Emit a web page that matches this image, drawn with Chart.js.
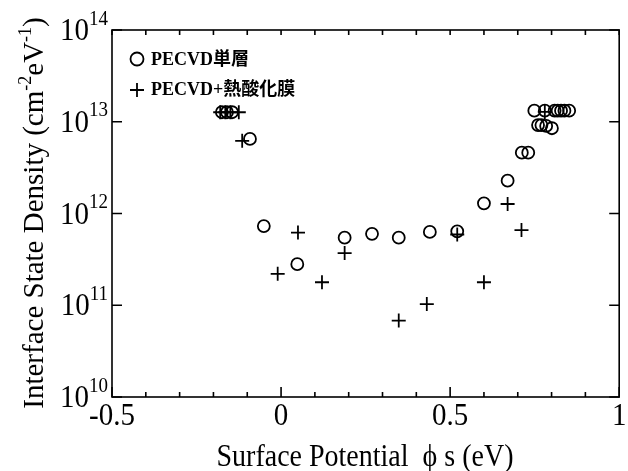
<!DOCTYPE html>
<html><head><meta charset="utf-8">
<script src="https://cdn.jsdelivr.net/npm/chart.js"></script>
<style>html,body{margin:0;padding:0;background:#fff;} #wrap{width:628px;height:471px;position:relative;}</style>
</head><body><div id="wrap"><canvas id="c" width="628" height="471"></canvas></div>
<script>
// ---- data ----
const seriesNames = ['PECVD単層', 'PECVD+熱酸化膜'];
const singleX = [-0.175, -0.16, -0.145, -0.092, -0.051, 0.048, 0.188, 0.269, 0.348, 0.44, 0.521, 0.60, 0.670, 0.712, 0.731, 0.749, 0.760, 0.770, 0.780, 0.784, 0.801, 0.809, 0.818, 0.828, 0.838, 0.852];
const singleY = [1.27e13, 1.27e13, 1.27e13, 6.5e12, 7.3e11, 2.8e11, 5.45e11, 6.0e11, 5.45e11, 6.3e11, 6.4e11, 1.29e12, 2.28e12, 4.6e12, 4.6e12, 1.32e13, 9.2e12, 9.2e12, 1.32e13, 9.0e12, 8.5e12, 1.32e13, 1.32e13, 1.32e13, 1.32e13, 1.32e13];
const oxideX = [-0.18, -0.165, -0.15, -0.125, -0.115, -0.01, 0.05, 0.121, 0.188, 0.348, 0.431, 0.521, 0.60, 0.67, 0.711, 0.78];
const oxideY = [1.27e13, 1.27e13, 1.27e13, 1.27e13, 6.2e12, 2.2e11, 6.2e11, 1.78e11, 3.7e11, 6.8e10, 1.03e11, 5.9e11, 1.78e11, 1.27e12, 6.6e11, 1.28e13];
const xTickValues = [-0.5, 0, 0.5, 1];
const xTickLabels = ['-0.5', '0', '0.5', '1'];
const xMinorStep = 0.1;
const yTickExponents = [10, 11, 12, 13, 14];
const xTitle = 'Surface Potential  ϕ s (eV)';
const yTitleParts = [['Interface State Density (cm', false], ['-2', true], ['eV', false], ['-1', true], [')', false]];

const SERIF = "'Liberation Serif', 'Times New Roman', serif";
const VSTRETCH = 1.1;

function toPts(xs, ys) { return xs.map((x, i) => ({ x: x, y: ys[i] })); }

function richWidth(ctx, parts, size, supSize) {
  let w = 0;
  for (const [t, sup] of parts) {
    ctx.font = (sup ? supSize : size) + 'px ' + SERIF;
    w += ctx.measureText(t).width;
  }
  return w;
}
function drawRich(ctx, parts, x, y, size, supSize, supRise) {
  let cx = x;
  for (const [t, sup] of parts) {
    ctx.font = (sup ? supSize : size) + 'px ' + SERIF;
    ctx.fillText(t, cx, sup ? y - supRise : y);
    cx += ctx.measureText(t).width;
  }
}
// draw text with a slight vertical stretch, anchored at its baseline
function stretchedText(ctx, text, x, y) {
  ctx.save();
  ctx.translate(x, y);
  ctx.scale(1, VSTRETCH);
  ctx.fillText(text, 0, 0);
  ctx.restore();
}

const decor = {
  id: 'decor',
  afterDraw(chart) {
    const ctx = chart.ctx, a = chart.chartArea;
    const xs = chart.scales.x, ys = chart.scales.y;
    ctx.save();
    ctx.strokeStyle = '#000';
    ctx.fillStyle = '#000';
    ctx.lineWidth = 1.6;
    ctx.strokeRect(a.left, a.top, a.right - a.left, a.bottom - a.top);
    ctx.beginPath();
    for (let k = 0; k <= 15; k++) {
      const v = -0.5 + k * xMinorStep;
      const px = xs.getPixelForValue(v);
      const major = k % 5 === 0;
      ctx.moveTo(px, a.bottom); ctx.lineTo(px, a.bottom - (major ? 10 : 5));
      ctx.moveTo(px, a.top); ctx.lineTo(px, a.top + 5);
    }
    for (const e of yTickExponents) {
      const py = ys.getPixelForValue(Math.pow(10, e));
      ctx.moveTo(a.left, py); ctx.lineTo(a.left + 10, py);
      ctx.moveTo(a.right, py); ctx.lineTo(a.right - 10, py);
    }
    ctx.stroke();
    // x tick labels
    ctx.font = '29px ' + SERIF;
    ctx.textAlign = 'center';
    ctx.textBaseline = 'alphabetic';
    xTickValues.forEach((v, i) => {
      stretchedText(ctx, xTickLabels[i], xs.getPixelForValue(v), 425);
    });
    // y tick labels 10^n
    ctx.textAlign = 'left';
    for (const e of yTickExponents) {
      const py = ys.getPixelForValue(Math.pow(10, e));
      const parts = [['10', false], [String(e), true]];
      const w = richWidth(ctx, parts, 29, 19);
      ctx.save();
      ctx.translate(108 - w, py + 10);
      ctx.scale(1, VSTRETCH);
      drawRich(ctx, parts, 0, 0, 29, 19, 14);
      ctx.restore();
    }
    // x title
    ctx.font = '28px ' + SERIF;
    ctx.textAlign = 'center';
    stretchedText(ctx, xTitle, 365, 466);
    // y title (rotated)
    ctx.save();
    ctx.translate(43, 213);
    ctx.rotate(-Math.PI / 2);
    ctx.textAlign = 'left';
    const tw = richWidth(ctx, yTitleParts, 29, 18);
    drawRich(ctx, yTitleParts, -tw / 2, 0, 29, 18, 12);
    ctx.restore();
    // legend
    ctx.lineWidth = 1.8;
    ctx.beginPath();
    ctx.arc(137, 59, 6.5, 0, Math.PI * 2);
    ctx.stroke();
    ctx.beginPath();
    ctx.moveTo(130, 90); ctx.lineTo(144, 90);
    ctx.moveTo(137, 83); ctx.lineTo(137, 97);
    ctx.stroke();
    ctx.font = "bold 18px 'Liberation Serif', 'Noto Sans CJK JP', serif";
    ctx.textAlign = 'left';
    ctx.textBaseline = 'middle';
    ctx.fillText(seriesNames[0], 151, 60);
    ctx.fillText(seriesNames[1], 151, 90);
    ctx.restore();
  }
};

new Chart(document.getElementById('c'), {
  type: 'scatter',
  data: {
    datasets: [
      { label: seriesNames[0], data: toPts(singleX, singleY), pointStyle: 'circle', pointRadius: 6, borderColor: '#000', backgroundColor: 'rgba(0,0,0,0)', borderWidth: 1.8 },
      { label: seriesNames[1], data: toPts(oxideX, oxideY), pointStyle: 'cross', pointRadius: 7, borderColor: '#000', backgroundColor: '#000', borderWidth: 1.8 }
    ]
  },
  options: {
    responsive: false,
    animation: false,
    devicePixelRatio: 1,
    layout: { padding: { left: 112, top: 30, right: 1, bottom: 74 } },
    plugins: { legend: { display: false }, tooltip: { enabled: false } },
    scales: {
      x: { type: 'linear', min: -0.5, max: 1, display: false },
      y: { type: 'logarithmic', min: 1e10, max: 1e14, display: false }
    }
  },
  plugins: [decor]
});
</script>
</body></html>
